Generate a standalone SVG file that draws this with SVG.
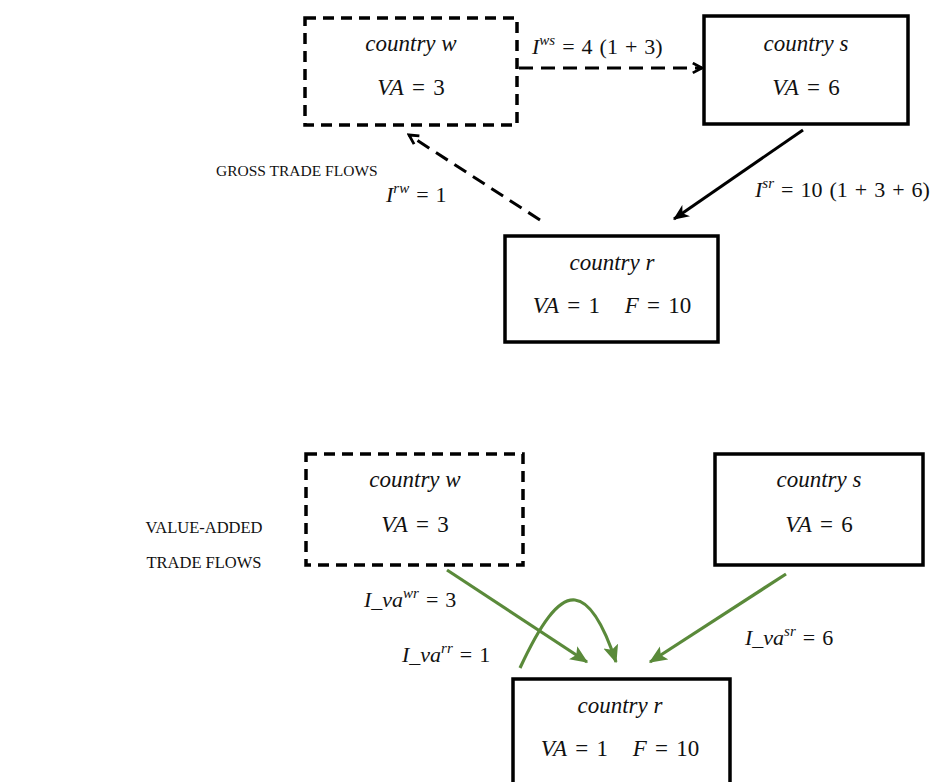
<svg xmlns="http://www.w3.org/2000/svg" width="940" height="782" viewBox="0 0 940 782">
<style>
.bg{fill:#fff}
.box{fill:#fff;stroke:#000;stroke-width:3.5}
.dbox{fill:#fff;stroke:#000;stroke-width:3.5;stroke-dasharray:11 7}
.m{font-family:"Liberation Serif","Times New Roman",serif;font-style:italic;font-size:23px;fill:#111;white-space:pre}
.w{word-spacing:2.5px}
.l{font-size:22px;word-spacing:1.5px}
.u{font-style:normal}
.sup{font-size:15px}
.cap{font-family:"Liberation Serif","Times New Roman",serif;font-size:16.5px;fill:#111}
.k{fill:none;stroke:#000;stroke-width:3}
.kd{fill:none;stroke:#000;stroke-width:3;stroke-dasharray:14 8}
.g{fill:none;stroke:#5a8a3a;stroke-width:3.2}
</style>
<defs>
<marker id="chev" viewBox="0 0 12 12" refX="10" refY="6" markerWidth="13" markerHeight="13" markerUnits="userSpaceOnUse" orient="auto">
<path d="M1.5,1.5 L10,6 L1.5,10.5" fill="none" stroke="#000" stroke-width="2.6" stroke-dasharray="none"/>
</marker>
<marker id="tri" viewBox="0 0 14 12" refX="13" refY="6" markerWidth="16" markerHeight="14" markerUnits="userSpaceOnUse" orient="auto">
<path d="M0,0 L14,6 L0,12 L4,6 z" fill="#000"/>
</marker>
<marker id="gtri" viewBox="0 0 14 12" refX="13" refY="6" markerWidth="18" markerHeight="16" markerUnits="userSpaceOnUse" orient="auto">
<path d="M0,0 L14,6 L0,12 L3,6 z" fill="#5a8a3a"/>
</marker>
</defs>
<rect class="bg" x="0" y="0" width="940" height="782"/>

<text class="cap" x="216" y="176" style="font-size:15.5px">GROSS TRADE FLOWS</text>
<text class="cap" x="204" y="533" text-anchor="middle">VALUE-ADDED</text>
<text class="cap" x="204" y="568" text-anchor="middle">TRADE FLOWS</text>

<g id="connectors">
<line class="kd" x1="519" y1="68" x2="702" y2="68" marker-end="url(#chev)"/>
<line class="k" x1="803" y1="130" x2="674" y2="219" marker-end="url(#tri)"/>
<line class="kd" x1="540" y1="220" x2="409" y2="135" marker-end="url(#chev)"/>
<line class="g" x1="447" y1="570" x2="587" y2="662" marker-end="url(#gtri)"/>
<line class="g" x1="786" y1="574" x2="650" y2="662" marker-end="url(#gtri)"/>
<path class="g" d="M520,668 C540,625 558,598 575,600 C594,602 608,638 616,662" marker-end="url(#gtri)"/>
<text class="m l" x="532" y="54">I<tspan class="sup" dy="-9">ws</tspan><tspan class="u" dy="9"> = 4 (1 + 3)</tspan></text>
<text class="m l" x="386" y="202">I<tspan class="sup" dy="-9">rw</tspan><tspan class="u" dy="9"> = 1</tspan></text>
<text class="m l" x="755" y="197">I<tspan class="sup" dy="-9">sr</tspan><tspan class="u" dy="9"> = 10 (1 + 3 + 6)</tspan></text>
<text class="m l" x="364" y="607">I_va<tspan class="sup" dy="-9">wr</tspan><tspan class="u" dy="9"> = 3</tspan></text>
<text class="m l" x="402" y="662">I_va<tspan class="sup" dy="-9">rr</tspan><tspan class="u" dy="9"> = 1</tspan></text>
<text class="m l" x="745" y="645">I_va<tspan class="sup" dy="-9">sr</tspan><tspan class="u" dy="9"> = 6</tspan></text>
</g>

<g id="gross-w">
<rect class="dbox" x="305" y="18" width="212" height="107"/>
<text class="m" x="411" y="51" text-anchor="middle">country w</text>
<text class="m w" x="411" y="95" text-anchor="middle">VA<tspan class="u"> = 3</tspan></text>
</g>
<g id="gross-s">
<rect class="box" x="704" y="16" width="204" height="108"/>
<text class="m" x="806" y="51" text-anchor="middle">country s</text>
<text class="m w" x="806" y="95" text-anchor="middle">VA<tspan class="u"> = 6</tspan></text>
</g>
<g id="gross-r">
<rect class="box" x="505" y="236" width="213" height="106"/>
<text class="m" x="612" y="270" text-anchor="middle">country r</text>
<text class="m w" x="612" y="313" text-anchor="middle">VA<tspan class="u"> = 1   </tspan>F<tspan class="u"> = 10</tspan></text>
</g>

<g id="va-w">
<rect class="dbox" x="306" y="454" width="217" height="111"/>
<text class="m" x="415" y="487" text-anchor="middle">country w</text>
<text class="m w" x="415" y="532" text-anchor="middle">VA<tspan class="u"> = 3</tspan></text>
</g>
<g id="va-s">
<rect class="box" x="715" y="454" width="208" height="111"/>
<text class="m" x="819" y="487" text-anchor="middle">country s</text>
<text class="m w" x="819" y="532" text-anchor="middle">VA<tspan class="u"> = 6</tspan></text>
</g>
<g id="va-r">
<path class="box" d="M513,792 L513,679 L730,679 L730,792"/>
<text class="m" x="620" y="713" text-anchor="middle">country r</text>
<text class="m w" x="620" y="756" text-anchor="middle">VA<tspan class="u"> = 1   </tspan>F<tspan class="u"> = 10</tspan></text>
</g>
</svg>
